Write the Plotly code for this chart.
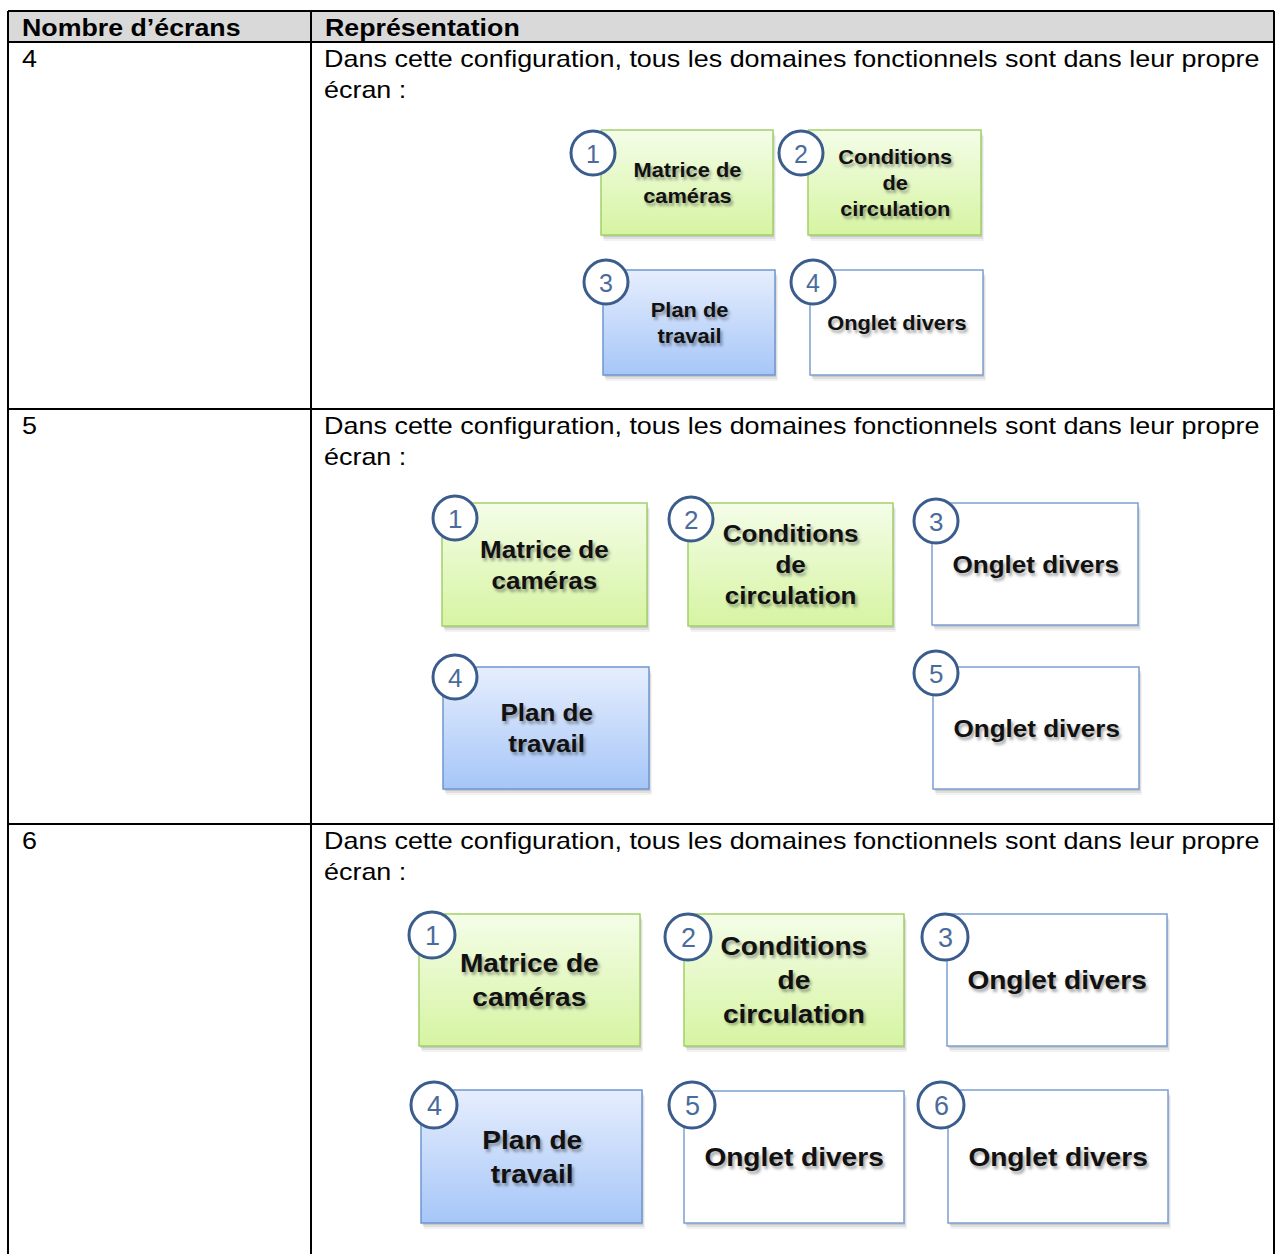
import json
import plotly.graph_objects as go

# ---------------- data ----------------
header_labels = ["Nombre d\u2019écrans", "Représentation"]
screen_counts = ["4", "5", "6"]
description_lines = [
    "Dans cette configuration, tous les domaines fonctionnels sont dans leur propre",
    "écran :",
]
labels_4 = ["Matrice de<br>caméras", "Conditions<br>de<br>circulation", "Plan de<br>travail", "Onglet divers"]
kinds_4 = ["green", "green", "blue", "white"]
labels_5 = ["Matrice de<br>caméras", "Conditions<br>de<br>circulation", "Onglet divers", "Plan de<br>travail", "Onglet divers"]
kinds_5 = ["green", "green", "white", "blue", "white"]
labels_6 = ["Matrice de<br>caméras", "Conditions<br>de<br>circulation", "Onglet divers", "Plan de<br>travail", "Onglet divers", "Onglet divers"]
kinds_6 = ["green", "green", "white", "blue", "white", "white"]

# ---------------- layout (pixel geometry) ----------------
W, H = 1279, 1254
TX0, TX1, TCOL = 8, 1274, 311
TY_TOP, TY_HEAD = 11, 42
ROW_TOPS = [42, 409, 824]

# box rectangles (x0, x1, y0, y1), circle centre (cx, cy), radius, label font size, text widening
geom = {
    "4": dict(boxes=[(601, 773, 130, 235), (808, 981, 130, 235), (603, 775, 270, 375), (810, 983, 270, 375)],
              circles=[(593, 153), (801, 153), (606, 282), (813, 282)], r=22, fs=20, nfs=25, sx=1.09),
    "5": dict(boxes=[(442, 647, 503, 626), (688, 893, 503, 626), (932, 1138, 503, 625),
                     (443, 649, 667, 789), (933, 1139, 667, 789)],
              circles=[(455, 518), (691, 519), (936, 521), (455, 677), (936, 673)], r=22, fs=24, nfs=26, sx=1.085),
    "6": dict(boxes=[(419, 640, 914, 1046), (684, 904, 914, 1046), (947, 1167, 914, 1046),
                     (421, 642, 1090, 1223), (684, 904, 1091, 1223), (948, 1168, 1090, 1223)],
              circles=[(432, 935), (688, 937), (945, 937), (434, 1105), (692, 1105), (941, 1105)], r=23, fs=26, nfs=27, sx=1.08),
}
styles = {
    "green": dict(top="#f4fde8", bottom="#d6f4a2", border="#a3cf6a"),
    "blue": dict(top="#e6eefd", bottom="#a6c6f8", border="#6f97cf"),
    "white": dict(top="#ffffff", bottom="#ffffff", border="#7c9ed2"),
}
FONT = "Liberation Sans, Arial, sans-serif"
CIRCLE_LINE = "#3b5d8d"
NUM_COLOR = "#4a6c9b"
HEAD_SX = 1.115   # horizontal widening of table text (reference rendered with hinted Arial)
DESC_SX = 1.122

sections = {"4": (labels_4, kinds_4), "5": (labels_5, kinds_5), "6": (labels_6, kinds_6)}

fig = go.Figure()
shapes = []
annotations = []
stretch = []  # per annotation: [scale, origin mode]


def add_ann(scale, origin, **kw):
    annotations.append(dict(showarrow=False, **kw))
    stretch.append([scale, origin])


# header background
shapes.append(dict(type="rect", x0=TX0, x1=TX1, y0=TY_TOP, y1=TY_HEAD, fillcolor="#d9d9d9",
                   line=dict(width=0), layer="below"))

for key, (labels, kinds) in sections.items():
    g = geom[key]
    for i, (lab, kind) in enumerate(zip(labels, kinds)):
        x0, x1, y0, y1 = g["boxes"][i]
        st = styles[kind]
        # soft shadow
        for dx, dy, a in [(1, 2, 0.10), (2, 4, 0.08), (3, 6, 0.05)]:
            shapes.append(dict(type="rect", x0=x0 + dx, x1=x1 + dx, y0=y0 + dy, y1=y1 + dy,
                               fillcolor=f"rgba(0,0,0,{a})", line=dict(width=0), layer="below"))
        fig.add_trace(go.Scatter(
            x=[x0, x1, x1, x0, x0], y=[y0, y0, y1, y1, y0], mode="lines", fill="toself",
            fillgradient=dict(type="vertical", start=y0, stop=y1,
                              colorscale=[[0, st["top"]], [1, st["bottom"]]]),
            line=dict(color=st["border"], width=1.5), hoverinfo="skip", showlegend=False))
        add_ann(g["sx"], "c", x=(x0 + x1) / 2, y=(y0 + y1) / 2, text=lab,
                xanchor="center", yanchor="middle", align="center",
                font=dict(family=FONT, size=g["fs"], color="#111111", weight="bold",
                          shadow="2px 3px 3px rgba(0,0,0,0.35)"))
        cx, cy = g["circles"][i]
        r = g["r"]
        shapes.append(dict(type="circle", x0=cx - r, x1=cx + r, y0=cy - r, y1=cy + r,
                           fillcolor="white", line=dict(color=CIRCLE_LINE, width=3), layer="above"))
        add_ann(1.0, "c", x=cx, y=cy + 1, text=str(i + 1), xanchor="center", yanchor="middle",
                font=dict(family=FONT, size=g["nfs"], color=NUM_COLOR))

# table lines
line_style = dict(color="black", width=2)
shapes.append(dict(type="line", x0=TX0, x1=TX1, y0=TY_TOP, y1=TY_TOP, line=line_style))
shapes.append(dict(type="line", x0=TX0, x1=TX1, y0=TY_HEAD, y1=TY_HEAD, line=line_style))
for yt in ROW_TOPS[1:]:
    shapes.append(dict(type="line", x0=TX0, x1=TX1, y0=yt, y1=yt, line=line_style))
for xv in (TX0, TCOL, TX1):
    shapes.append(dict(type="line", x0=xv, x1=xv, y0=TY_TOP, y1=H + 5, line=line_style))

# header text
add_ann(HEAD_SX, "l", x=20, y=27, text=header_labels[0], xanchor="left", yanchor="middle",
        font=dict(family=FONT, size=24, color="black", weight="bold"))
add_ann(HEAD_SX, "l", x=323, y=27, text=header_labels[1], xanchor="left", yanchor="middle",
        font=dict(family=FONT, size=24, color="black", weight="bold"))

for cnt, yt in zip(screen_counts, ROW_TOPS):
    add_ann(DESC_SX, "l", x=20, y=yt + 16, text=cnt, xanchor="left", yanchor="middle",
            font=dict(family=FONT, size=24, color="black"))
    for j, line in enumerate(description_lines):
        add_ann(DESC_SX, "l", x=322, y=yt + 16 + 31 * j, text=line, xanchor="left",
                yanchor="middle", font=dict(family=FONT, size=24, color="black"))

fig.update_layout(
    width=W, height=H, autosize=False,
    margin=dict(l=0, r=0, t=0, b=0, pad=0),
    paper_bgcolor="white", plot_bgcolor="white",
    xaxis=dict(range=[0, W], visible=False, fixedrange=True),
    yaxis=dict(range=[H, 0], visible=False, fixedrange=True),
    shapes=shapes, annotations=annotations, showlegend=False,
)

js = """
document.body.style.margin='0';document.body.style.overflow='hidden';
var SX = %s;
var gd = document.querySelector('.plotly-graph-div');
gd.querySelectorAll('g.annotation').forEach(function(g){
  var i = +g.getAttribute('data-index');
  var p = SX[i]; if (!p || p[0] === 1) return;
  var t = g.querySelector('text.annotation-text'); if (!t) return;
  var b = t.getBBox();
  var cx = (p[1] === 'l') ? b.x : b.x + b.width / 2;
  t.setAttribute('transform', 'translate(' + cx + ',0) scale(' + p[0] + ',1) translate(' + (-cx) + ',0)');
});
""" % json.dumps(stretch)

fig.write_html("out.html", config={"displayModeBar": False, "staticPlot": True}, post_script=js)
